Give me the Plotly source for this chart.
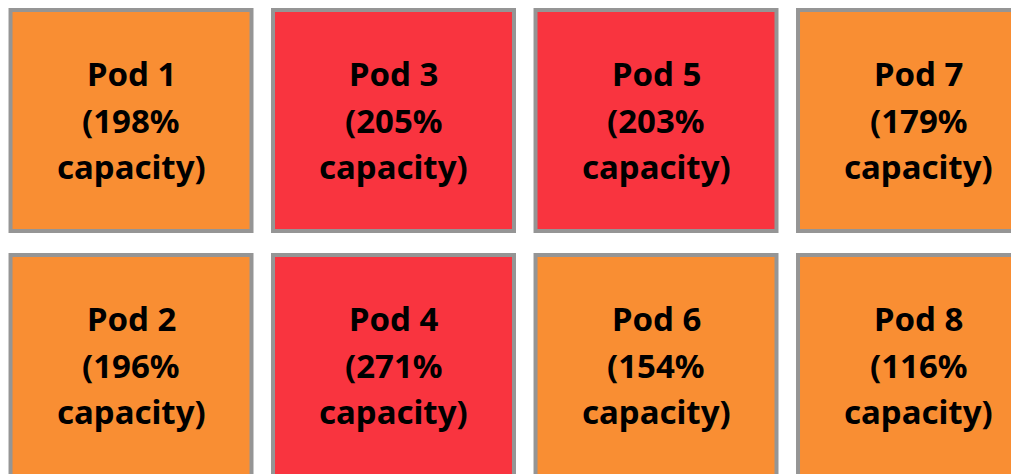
import plotly.graph_objects as go

pods = ["Pod 1", "Pod 2", "Pod 3", "Pod 4", "Pod 5", "Pod 6", "Pod 7", "Pod 8"]
capacity = [198, 196, 205, 271, 203, 154, 179, 116]
col_idx = [0, 0, 1, 1, 2, 2, 3, 3]
row_idx = [0, 1, 0, 1, 0, 1, 0, 1]

THRESHOLD = 200
ORANGE = "#F98E33"
RED = "#F9343F"
BORDER = "#959595"
HALF_W = 0.459
HALF_H = 0.451
LINE_GAP = 46.5

fig = go.Figure()
shapes = []
annotations = []
for name, cap, c, r in zip(pods, capacity, col_idx, row_idx):
    color = RED if cap > THRESHOLD else ORANGE
    shapes.append(dict(type="rect", xref="x", yref="y",
                       x0=c - HALF_W, x1=c + HALF_W, y0=r - HALF_H, y1=r + HALF_H,
                       fillcolor=color, line=dict(color=BORDER, width=4), layer="below"))
    lines = [name, f"({cap}%", "capacity)"]
    for k, line in enumerate(lines):
        annotations.append(dict(x=c, y=r, xref="x", yref="y", showarrow=False,
                                text=f"<b>{line}</b>", yshift=(1 - k) * LINE_GAP,
                                font=dict(family="Noto Sans", size=33, color="black"),
                                align="center"))

fig.add_trace(go.Scatter(x=col_idx, y=row_idx, mode="markers",
                         marker=dict(opacity=0), hoverinfo="skip", showlegend=False))

fig.update_layout(
    width=1019, height=474,
    margin=dict(l=0, r=0, t=0, b=0),
    paper_bgcolor="white", plot_bgcolor="white",
    shapes=shapes, annotations=annotations,
    xaxis=dict(range=[-0.4686, 3.4133], visible=False, showgrid=False, zeroline=False),
    yaxis=dict(range=[1.4755, -0.459], visible=False, showgrid=False, zeroline=False),
    showlegend=False,
)

fig.write_html("out.html")
